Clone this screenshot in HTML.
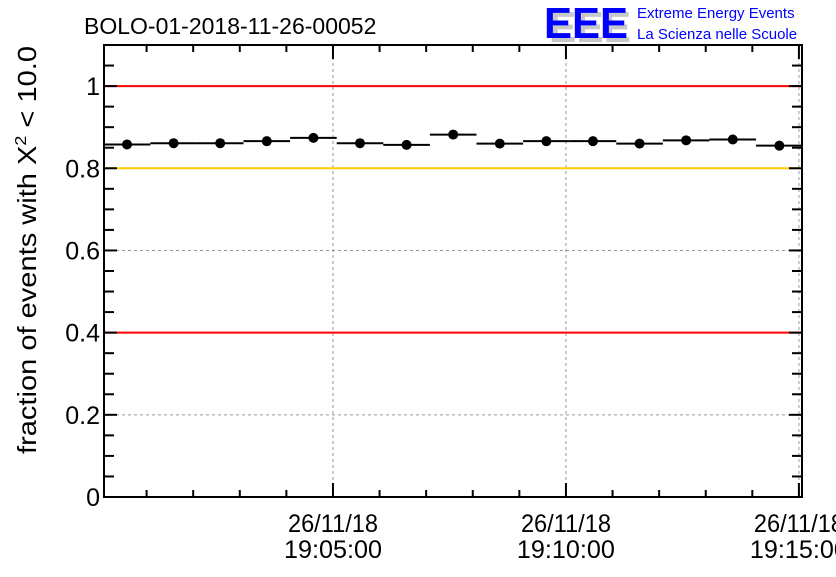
<!DOCTYPE html>
<html><head><meta charset="utf-8"><style>
body{margin:0;background:#fff;}
svg text{font-family:"Liberation Sans",sans-serif;}
</style></head><body>
<svg width="836" height="572" viewBox="0 0 836 572">
<text x="84" y="34" font-size="23">BOLO-01-2018-11-26-00052</text>
<g>
<text x="549" y="42" font-size="44" fill="#c8c8c8" font-weight="bold" textLength="82" lengthAdjust="spacingAndGlyphs">EEE</text>
<text x="544" y="38" font-size="44" fill="#0000ff" font-weight="bold" textLength="84" lengthAdjust="spacingAndGlyphs">EEE</text>
<text x="637" y="18" font-size="15" fill="#0000ff">Extreme Energy Events</text>
<text x="637" y="39" font-size="15" fill="#0000ff">La Scienza nelle Scuole</text>
</g>
<text transform="translate(36,250) rotate(-90)" text-anchor="middle" font-size="26" textLength="408" lengthAdjust="spacingAndGlyphs">fraction of events with X<tspan dy="-10" font-size="16">2</tspan><tspan dy="10"> &lt; 10.0</tspan></text>
<g id="plot"></g>
</svg>
<script>
const binStartMin=[0.08,1.08,2.08,3.08,4.08,5.08,6.08,7.08,8.08,9.08,10.08,11.08,12.08,13.08,14.08];
const fractions=[0.858,0.861,0.861,0.866,0.874,0.861,0.857,0.882,0.860,0.866,0.866,0.860,0.868,0.870,0.855];
const yTicks=[0,0.2,0.4,0.6,0.8,1];
const yTickLabels=["0","0.2","0.4","0.6","0.8","1"];
const xMajorMin=[5,10,15];
const xMajorLabels=[["26/11/18","19:05:00"],["26/11/18","19:10:00"],["26/11/18","19:15:00"]];
const refLines=[{v:1,c:"#ff0000"},{v:0.8,c:"#ffcc00"},{v:0.4,c:"#ff0000"}];
const L=104,R=802,T=45,B=497;
const xMin=0.086,xMax=15.066;
const X=m=>L+(m-xMin)/(xMax-xMin)*(R-L);
const Y=v=>B-v/1.1*(B-T);
const NS="http://www.w3.org/2000/svg";
const g=document.getElementById('plot');
function mk(t,a){const e=document.createElementNS(NS,t);for(const k in a)e.setAttribute(k,a[k]);g.appendChild(e);return e;}
for(const m of xMajorMin){const e=mk('line',{x1:X(m),x2:X(m),y1:T,y2:B,stroke:'#999','stroke-dasharray':'3,3','stroke-width':1});

}
for(const v of yTicks){if(v===0)continue;const e=mk('line',{x1:L,x2:R,y1:Y(v),y2:Y(v),stroke:'#999','stroke-dasharray':'3,3','stroke-width':1});

}
for(const r of refLines){const e=mk('line',{x1:L,x2:R,y1:Y(r.v),y2:Y(r.v),stroke:r.c,'stroke-width':2});

}
binStartMin.forEach((s,i)=>{
const v=fractions[i];
const l=mk('line',{x1:Math.max(L,X(s)),x2:Math.min(R,X(s+1)),y1:Y(v),y2:Y(v),stroke:'#000','stroke-width':2});


const c=mk('circle',{cx:X(s+0.5),cy:Y(v),r:5,fill:'#000'});


});
const f=mk('rect',{x:L,y:T,width:R-L,height:B-T,fill:'none',stroke:'#000','stroke-width':2});


for(let v=0;v<=1.1001;v+=0.05){const big=Math.abs(v*5-Math.round(v*5))<1e-6;const len=big?13:10;
mk('line',{x1:L,x2:L+len,y1:Y(v),y2:Y(v),stroke:'#000','stroke-width':2});
mk('line',{x1:R-len,x2:R,y1:Y(v),y2:Y(v),stroke:'#000','stroke-width':2});}
yTicks.forEach((v,i)=>{const t=mk('text',{x:L-4,y:Y(v)+9,'text-anchor':'end','font-size':25});t.textContent=yTickLabels[i];

});
for(let m=1;m<=15;m++){const big=m%5===0;const len=big?14:7;
mk('line',{x1:X(m),x2:X(m),y1:B,y2:B-len,stroke:'#000','stroke-width':2});
mk('line',{x1:X(m),x2:X(m),y1:T,y2:T+len,stroke:'#000','stroke-width':2});}
xMajorMin.forEach((m,i)=>{xMajorLabels[i].forEach((s,j)=>{const t=mk('text',{x:X(m),y:532+j*26,'text-anchor':'middle','font-size':25,textLength:j?98:90,lengthAdjust:'spacingAndGlyphs'});t.textContent=s;

});});
</script>
</body></html>
